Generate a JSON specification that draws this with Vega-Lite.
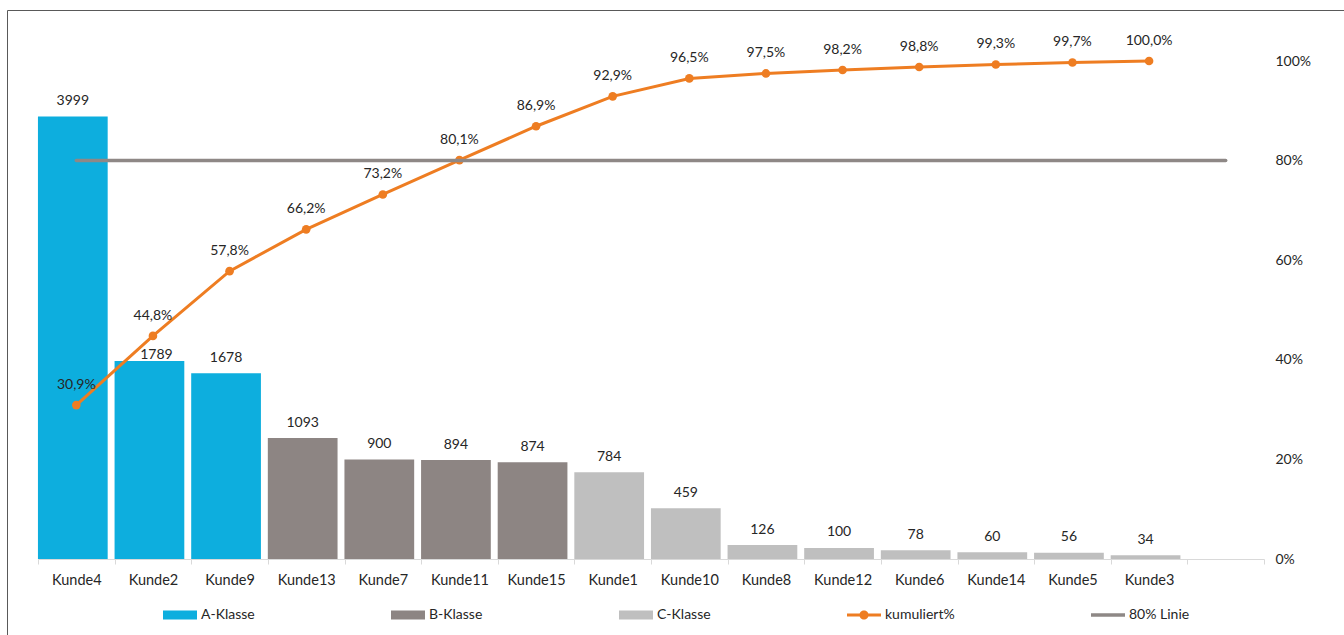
{
  "$schema": "https://vega.github.io/schema/vega-lite/v6.json",
  "width": 1337,
  "height": 625,
  "autosize": "none",
  "padding": {"left": 7, "top": 10, "right": 0, "bottom": 0},
  "background": "white",
  "datasets": {
    "kunden": [
      {"Kunde": "Kunde4", "Umsatz": 3999, "Klasse": "A-Klasse", "kumuliert": 0.309},
      {"Kunde": "Kunde2", "Umsatz": 1789, "Klasse": "A-Klasse", "kumuliert": 0.448},
      {"Kunde": "Kunde9", "Umsatz": 1678, "Klasse": "A-Klasse", "kumuliert": 0.578},
      {"Kunde": "Kunde13", "Umsatz": 1093, "Klasse": "B-Klasse", "kumuliert": 0.662},
      {"Kunde": "Kunde7", "Umsatz": 900, "Klasse": "B-Klasse", "kumuliert": 0.732},
      {"Kunde": "Kunde11", "Umsatz": 894, "Klasse": "B-Klasse", "kumuliert": 0.801},
      {"Kunde": "Kunde15", "Umsatz": 874, "Klasse": "B-Klasse", "kumuliert": 0.869},
      {"Kunde": "Kunde1", "Umsatz": 784, "Klasse": "C-Klasse", "kumuliert": 0.929},
      {"Kunde": "Kunde10", "Umsatz": 459, "Klasse": "C-Klasse", "kumuliert": 0.965},
      {"Kunde": "Kunde8", "Umsatz": 126, "Klasse": "C-Klasse", "kumuliert": 0.975},
      {"Kunde": "Kunde12", "Umsatz": 100, "Klasse": "C-Klasse", "kumuliert": 0.982},
      {"Kunde": "Kunde6", "Umsatz": 78, "Klasse": "C-Klasse", "kumuliert": 0.988},
      {"Kunde": "Kunde14", "Umsatz": 60, "Klasse": "C-Klasse", "kumuliert": 0.993},
      {"Kunde": "Kunde5", "Umsatz": 56, "Klasse": "C-Klasse", "kumuliert": 0.997},
      {"Kunde": "Kunde3", "Umsatz": 34, "Klasse": "C-Klasse", "kumuliert": 1.0}
    ],
    "achse": [
      {"Kunde": "Kunde4"}, {"Kunde": "Kunde2"}, {"Kunde": "Kunde9"}, {"Kunde": "Kunde13"},
      {"Kunde": "Kunde7"}, {"Kunde": "Kunde11"}, {"Kunde": "Kunde15"}, {"Kunde": "Kunde1"},
      {"Kunde": "Kunde10"}, {"Kunde": "Kunde8"}, {"Kunde": "Kunde12"}, {"Kunde": "Kunde6"},
      {"Kunde": "Kunde14"}, {"Kunde": "Kunde5"}, {"Kunde": "Kunde3"}, {"Kunde": " "}
    ]
  },
  "layer": [
    {
      "data": {"name": "kunden"},
      "layer": [
        {
          "mark": {"type": "bar", "width": {"band": 0.91}, "xOffset": -3.5},
          "encoding": {
            "x": {
              "field": "Kunde",
              "type": "nominal",
              "scale": {
                "domain": ["Kunde4", "Kunde2", "Kunde9", "Kunde13", "Kunde7", "Kunde11", "Kunde15", "Kunde1", "Kunde10", "Kunde8", "Kunde12", "Kunde6", "Kunde14", "Kunde5", "Kunde3", " "],
                "range": [31, 1257],
                "paddingInner": 0,
                "paddingOuter": 0
              },
              "axis": {
                "title": null,
                "orient": "bottom",
                "offset": -76,
                "tickBand": "extent",
                "tickSize": 5,
                "tickColor": "#D9D9D9",
                "domainColor": "#D9D9D9",
                "labelPadding": 9,
                "labelFontSize": 14.5,
                "labelColor": "#262626",
                "labelAngle": 0,
                "grid": false
              }
            },
            "y": {
              "field": "Umsatz",
              "type": "quantitative",
              "scale": {"domain": [0, 4500], "range": [549, 51]},
              "axis": null
            },
            "color": {
              "field": "Klasse",
              "type": "nominal",
              "scale": {
                "domain": ["A-Klasse", "B-Klasse", "C-Klasse", "kumuliert%", "80% Linie"],
                "range": ["#0DAEDE", "#8D8583", "#BFBFBF", "#EE7D22", "#8E8886"]
              },
              "legend": {
                "title": null,
                "orient": "none",
                "legendX": 156,
                "legendY": 588,
                "direction": "horizontal",
                "columns": 5,
                "columnPadding": 136,
                "symbolSize": 1156,
                "symbolStrokeWidth": 0,
                "labelFontSize": 14,
                "labelColor": "#262626",
                "labelOffset": 4,
                "labelLimit": 200,
                "encode": {
                  "symbols": {
                    "update": {
                      "shape": {"signal": "datum.value === 'kumuliert%' ? 'M-1,-0.09H1V0.09H-1Z M-0.27,0A0.27,0.27 0 1,1 0.27,0A0.27,0.27 0 1,1 -0.27,0Z' : datum.value === '80% Linie' ? 'M-1,-0.1H1V0.1H-1Z' : 'M-1,-0.27H1V0.27H-1Z'"},
                      "fill": {"signal": "scale('color', datum.value)"},
                      "stroke": {"value": "transparent"},
                      "opacity": {"value": 1}
                    }
                  }
                }
              }
            }
          }
        },
        {
          "transform": [{"filter": "datum.Kunde !== 'Kunde2'"}],
          "mark": {"type": "text", "baseline": "alphabetic", "dy": -11.5, "xOffset": -3.5, "fontSize": 14, "color": "#262626"},
          "encoding": {
            "x": {"field": "Kunde", "type": "nominal"},
            "y": {"field": "Umsatz", "type": "quantitative"},
            "text": {"field": "Umsatz", "type": "quantitative", "format": "d"}
          }
        },
        {
          "transform": [{"filter": "datum.Kunde === 'Kunde2'"}],
          "mark": {"type": "text", "baseline": "alphabetic", "dy": -2, "xOffset": 3.5, "fontSize": 14, "color": "#262626"},
          "encoding": {
            "x": {"field": "Kunde", "type": "nominal"},
            "y": {"field": "Umsatz", "type": "quantitative"},
            "text": {"field": "Umsatz", "type": "quantitative", "format": "d"}
          }
        }
      ]
    },
    {
      "layer": [
        {
          "data": {"name": "kunden"},
          "mark": {"type": "line", "color": "#EE7D22", "strokeWidth": 3},
          "encoding": {
            "x": {"field": "Kunde", "type": "nominal"},
            "y": {
              "field": "kumuliert",
              "type": "quantitative",
              "scale": {"domain": [0, 1], "range": [549, 51]},
              "axis": {
                "title": null,
                "orient": "right",
                "offset": -80,
                "values": [0, 0.2, 0.4, 0.6, 0.8, 1],
                "format": ".0%",
                "ticks": false,
                "domain": false,
                "grid": false,
                "labelPadding": 11,
                "labelFontSize": 14,
                "labelColor": "#262626"
              }
            }
          }
        },
        {
          "data": {"name": "kunden"},
          "mark": {"type": "point", "filled": true, "size": 75, "opacity": 1, "color": "#EE7D22"},
          "encoding": {
            "x": {"field": "Kunde", "type": "nominal"},
            "y": {"field": "kumuliert", "type": "quantitative"}
          }
        },
        {
          "data": {"name": "kunden"},
          "mark": {"type": "text", "baseline": "alphabetic", "dy": -16, "fontSize": 14, "color": "#262626"},
          "encoding": {
            "x": {"field": "Kunde", "type": "nominal"},
            "y": {"field": "kumuliert", "type": "quantitative"},
            "text": {"field": "kumuliert", "type": "quantitative", "format": ".1%"}
          }
        },
        {
          "data": {"name": "achse"},
          "mark": {"type": "line", "color": "#8E8886", "strokeWidth": 3.5, "strokeCap": "round"},
          "encoding": {
            "x": {"field": "Kunde", "type": "nominal"},
            "y": {"datum": 0.8, "type": "quantitative"}
          }
        }
      ]
    }
  ],
  "resolve": {"scale": {"y": "independent"}},
  "config": {
    "font": "Lato",
    "locale": {
      "number": {"decimal": ",", "thousands": ".", "grouping": [3], "currency": ["", " €"]}
    },
    "view": {"stroke": "#595959", "strokeWidth": 1}
  }
}
